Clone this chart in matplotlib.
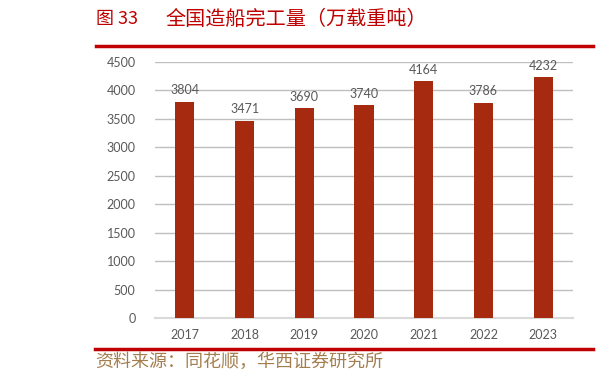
import matplotlib.pyplot as plt

# données
years = ['2017', '2018', '2019', '2020', '2021', '2022', '2023']
values = [3804, 3471, 3690, 3740, 4164, 3786, 4232]
yticks = [0, 500, 1000, 1500, 2000, 2500, 3000, 3500, 4000, 4500]

plt.rcParams['font.family'] = ['Lato', 'DejaVu Sans']
cjk = ['Noto Sans CJK SC', 'DejaVu Sans']

W, H = 597, 380
fig = plt.figure(figsize=(W / 100, H / 100), dpi=100)

# zone du graphique
ax = fig.add_axes([155 / W, 1 - 318 / H, (573 - 155) / W, (318 - 62) / H])
x = range(len(years))
bars = ax.bar(x, values, width=0.32, color='#A52A10', zorder=3)
for i, v in enumerate(values):
    ax.annotate(str(v), (i, v), xytext=(0, 4), textcoords='offset points',
                ha='center', va='bottom', fontsize=9, color='#595959')

ax.set_xlim(-0.5, len(years) - 0.5)
ax.set_ylim(0, 4500)
ax.set_yticks(yticks)
ax.set_xticks(list(x))
ax.set_xticklabels(years)
ax.tick_params(axis='both', length=0, labelsize=9, labelcolor='#595959')
ax.tick_params(axis='y', pad=14)
ax.tick_params(axis='x', pad=8)
ax.yaxis.grid(True, color='#bfbfbf', linewidth=1, zorder=0)
for s in ['top', 'right', 'left']:
    ax.spines[s].set_visible(False)
ax.spines['bottom'].set_color('#d9d9d9')
ax.spines['bottom'].set_linewidth(1.5)

# titre et lignes rouges
fig.text(96 / W, 1 - 19 / H, '图 33', family=cjk, fontsize=13, color='#C00000', va='center')
fig.text(166 / W, 1 - 19 / H, '全国造船完工量（万载重吨）', family=cjk, fontsize=14.5,
         color='#C00000', va='center')
fig.add_artist(plt.Line2D([96 / W, 593 / W], [1 - 46 / H, 1 - 46 / H], color='#C00000', linewidth=2.5))
fig.add_artist(plt.Line2D([95 / W, 593 / W], [1 - 349 / H, 1 - 349 / H], color='#C00000', linewidth=2.5))

# source
fig.text(95 / W, 1 - 362 / H, '资料来源：同花顺，华西证券研究所', family=cjk, fontsize=13,
         color='#A47E4E', va='center')

fig.savefig('out.png', dpi=100)
